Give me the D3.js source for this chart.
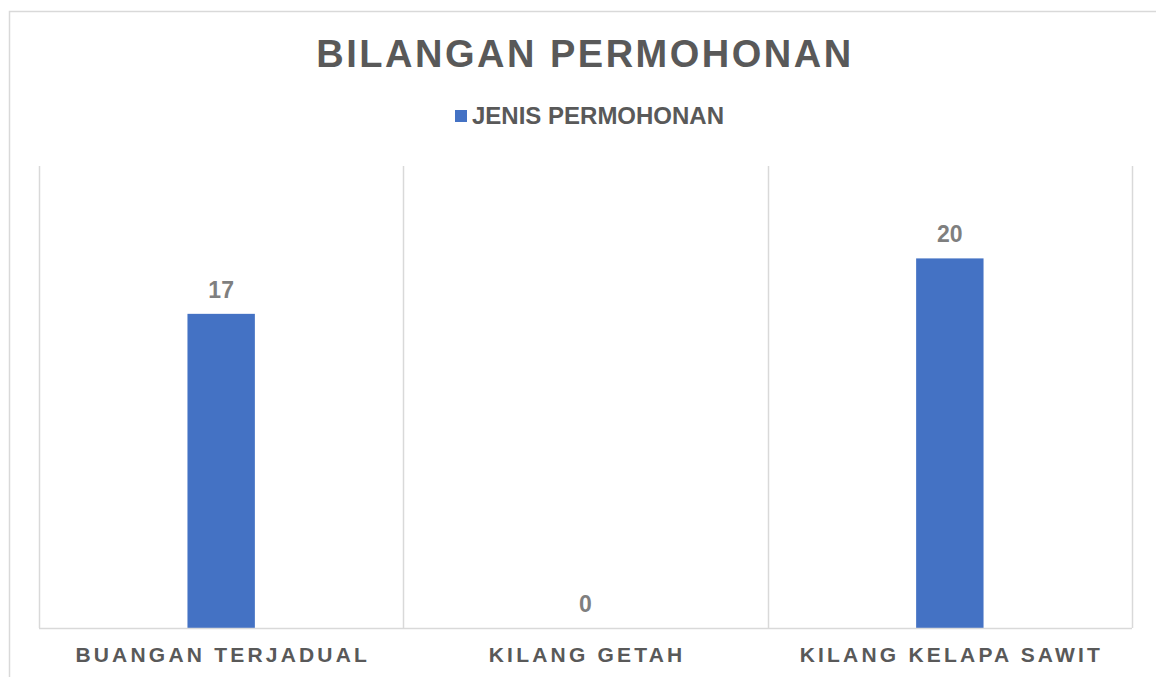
<!DOCTYPE html>
<html>
<head>
<meta charset="utf-8">
<script src="https://cdn.jsdelivr.net/npm/d3@7"></script>
<style>
  body { margin: 0; background: #fff; }
  svg { display: block; font-family: "Liberation Sans", Arial, sans-serif; }
</style>
</head>
<body>
<svg id="chart"></svg>
<script>
const categories = ["BUANGAN TERJADUAL", "KILANG GETAH", "KILANG KELAPA SAWIT"];
const values = [17, 0, 20];
const seriesName = "JENIS PERMOHONAN";
const chartTitle = "BILANGAN PERMOHONAN";

const width = 1156;
const height = 677;
const margin = {top: 166, right: 24, bottom: 49, left: 39};
const barColor = "#4472c4";

const svg = d3.select("#chart")
    .attr("width", width)
    .attr("height", height)
    .attr("viewBox", [0, 0, width, height]);

// chart area frame (only top/left visible, rest is off the page)
svg.append("rect")
    .attr("x", 9.5)
    .attr("y", 11.5)
    .attr("width", width + 20)
    .attr("height", height + 20)
    .style("fill", "none")
    .style("stroke", "#d9d9d9")
    .style("stroke-width", 1.5);

const x = d3.scaleBand()
    .domain(categories)
    .range([margin.left, width - margin.right])
    .paddingInner(0)
    .paddingOuter(0);

const y = d3.scaleLinear()
    .domain([0, 25])
    .range([height - margin.bottom, margin.top]);

// vertical gridlines at category boundaries
const bounds = categories.map(c => x(c)).concat([x.range()[1]]);
svg.append("g")
    .selectAll("line")
    .data(bounds)
    .join("line")
    .attr("x1", d => Math.round(d) + 0.5)
    .attr("x2", d => Math.round(d) + 0.5)
    .attr("y1", y(25))
    .attr("y2", y(0))
    .style("stroke", "#d9d9d9")
    .style("stroke-width", 1.5);

// bars
const barW = x.bandwidth() * 0.185;
svg.append("g")
    .selectAll("rect")
    .data(values)
    .join("rect")
    .attr("x", (d, i) => x(categories[i]) + x.bandwidth() / 2 - barW / 2)
    .attr("y", d => y(d))
    .attr("width", barW)
    .attr("height", d => y(0) - y(d))
    .style("fill", barColor);

// baseline
svg.append("line")
    .attr("x1", margin.left)
    .attr("x2", width - margin.right)
    .attr("y1", y(0) + 0.5)
    .attr("y2", y(0) + 0.5)
    .style("stroke", "#d9d9d9")
    .style("stroke-width", 1.5);

// value labels
svg.append("g")
    .selectAll("text")
    .data(values)
    .join("text")
    .attr("x", (d, i) => x(categories[i]) + x.bandwidth() / 2)
    .attr("y", d => y(d) - 16)
    .attr("text-anchor", "middle")
    .style("font-size", "23px")
    .style("font-weight", "bold")
    .style("fill", "#7f7f7f")
    .text(d => d);

// category labels
svg.append("g")
    .selectAll("text")
    .data(categories)
    .join("text")
    .attr("x", d => x(d) + x.bandwidth() / 2 + 1.6)
    .attr("y", y(0) + 34)
    .attr("text-anchor", "middle")
    .style("font-size", "21px")
    .style("font-weight", "bold")
    .style("letter-spacing", "3.2px")
    .style("fill", "#595959")
    .text(d => d);

// title
svg.append("text")
    .attr("x", width / 2 + 7)
    .attr("y", 67)
    .attr("text-anchor", "middle")
    .style("font-size", "38px")
    .style("font-weight", "bold")
    .style("letter-spacing", "2.5px")
    .style("fill", "#595959")
    .text(chartTitle);

// legend
const legend = svg.append("g").attr("transform", "translate(455,110)");
legend.append("rect")
    .attr("width", 12)
    .attr("height", 12)
    .style("fill", barColor);
legend.append("text")
    .attr("x", 17)
    .attr("y", 14)
    .style("font-size", "24px")
    .style("font-weight", "bold")
    .style("fill", "#595959")
    .text(seriesName);
</script>
</body>
</html>
